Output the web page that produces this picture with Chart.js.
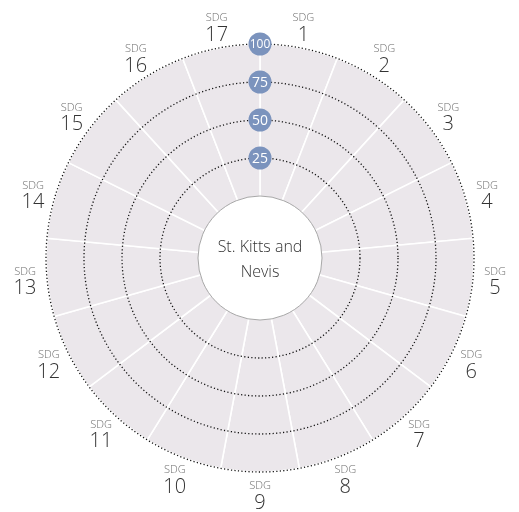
<!DOCTYPE html>
<html>
<head>
<meta charset="utf-8">
<script src="https://cdn.jsdelivr.net/npm/chart.js@4.4.0/dist/chart.umd.min.js"></script>
<style>
    html, body { margin: 0; padding: 0; background: #ffffff; }
    canvas { display: block; }
</style>
</head>
<body>
<canvas id="Chart_SDG" width="519" height="512"></canvas>
<script>
// Dữ liệu biểu đồ
var goalNumbers = ['1', '2', '3', '4', '5', '6', '7', '8', '9', '10', '11', '12', '13', '14', '15', '16', '17'];
var goalPrefix = 'SDG';
var maxScores = [100, 100, 100, 100, 100, 100, 100, 100, 100, 100, 100, 100, 100, 100, 100, 100, 100];
var tickValues = [25, 50, 75, 100];
var countryName = ['St. Kitts and', 'Nevis'];

var FONT = "'Open Sans', 'Noto Sans', sans-serif";

// plugin: lỗ trắng ở giữa, nhãn trục, nhãn SDG
const plugin = {
    id: 'sdg_wheel',
    afterDatasetsDraw: (chart) => {
        const ctx = chart.ctx;
        const r = chart.scales.r;
        const hole = r.getDistanceFromCenterForValue(0);
        ctx.save();
        ctx.beginPath();
        ctx.arc(r.xCenter, r.yCenter, hole, 0, Math.PI * 2);
        ctx.fillStyle = '#ffffff';
        ctx.fill();
        ctx.lineWidth = 1;
        ctx.strokeStyle = '#a8a8a8';
        ctx.stroke();
        ctx.restore();
    },
    afterDraw: (chart) => {
        const ctx = chart.ctx;
        const r = chart.scales.r;
        ctx.save();
        // nhãn giá trị trên trục đứng
        tickValues.forEach(function (v) {
            const d = r.getDistanceFromCenterForValue(v);
            const y = r.yCenter - d;
            ctx.beginPath();
            ctx.arc(r.xCenter, y, 11.5, 0, Math.PI * 2);
            ctx.fillStyle = '#7b93bd';
            ctx.fill();
            ctx.fillStyle = '#ffffff';
            ctx.font = (v >= 100 ? '12px ' : '14px ') + FONT;
            ctx.textAlign = 'center';
            ctx.textBaseline = 'middle';
            ctx.fillText(String(v), r.xCenter, y + 1);
        });
        // nhãn SDG quanh vòng tròn
        const n = goalNumbers.length;
        const dist = r.drawingArea + 22;
        goalNumbers.forEach(function (num, i) {
            const a = -Math.PI / 2 + (i + 0.5) * Math.PI * 2 / n;
            const x = r.xCenter + Math.cos(a) * dist;
            const y = r.yCenter + Math.sin(a) * dist;
            ctx.textAlign = 'center';
            ctx.textBaseline = 'middle';
            ctx.fillStyle = '#6e6e6e';
            ctx.font = '300 11px ' + FONT;
            ctx.fillText(goalPrefix, x, y - 8);
            ctx.fillStyle = '#333333';
            ctx.font = '300 20px ' + FONT;
            ctx.fillText(num, x, y + 9);
        });
        // tên quốc gia ở giữa
        ctx.fillStyle = '#333333';
        ctx.font = '300 16px ' + FONT;
        ctx.fillText(countryName[0], r.xCenter, r.yCenter - 11);
        ctx.fillText(countryName[1], r.xCenter, r.yCenter + 14);
        ctx.restore();
    }
};

var ctx1 = document.getElementById('Chart_SDG');
var Chart_SDG = new Chart(ctx1, {
    type: 'polarArea',
    data: {
        labels: goalNumbers,
        datasets: [{
            label: 'Max',
            data: maxScores,
            backgroundColor: '#ebe7eb',
            borderColor: '#ffffff',
            borderWidth: 1.6
        }]
    },
    options: {
        responsive: false,
        animation: false,
        events: [],
        layout: {
            padding: {
                left: 46,
                right: 45,
                top: 44,
                bottom: 40
            }
        },
        plugins: {
            legend: { display: false },
            tooltip: { enabled: false }
        },
        scales: {
            r: {
                min: -40.79,
                max: 100,
                startAngle: 0,
                afterBuildTicks: function (scale) {
                    scale.ticks = tickValues.map(function (v) { return { value: v }; });
                },
                ticks: { display: false, z: 1 },
                pointLabels: { display: false },
                angleLines: { display: false },
                grid: {
                    z: 1,
                    circular: true,
                    color: '#111111',
                    lineWidth: 1.3
                },
                border: {
                    z: 1,
                    dash: [1.2, 2.3]
                }
            }
        }
    },
    plugins: [plugin]
});
</script>
</body>
</html>
